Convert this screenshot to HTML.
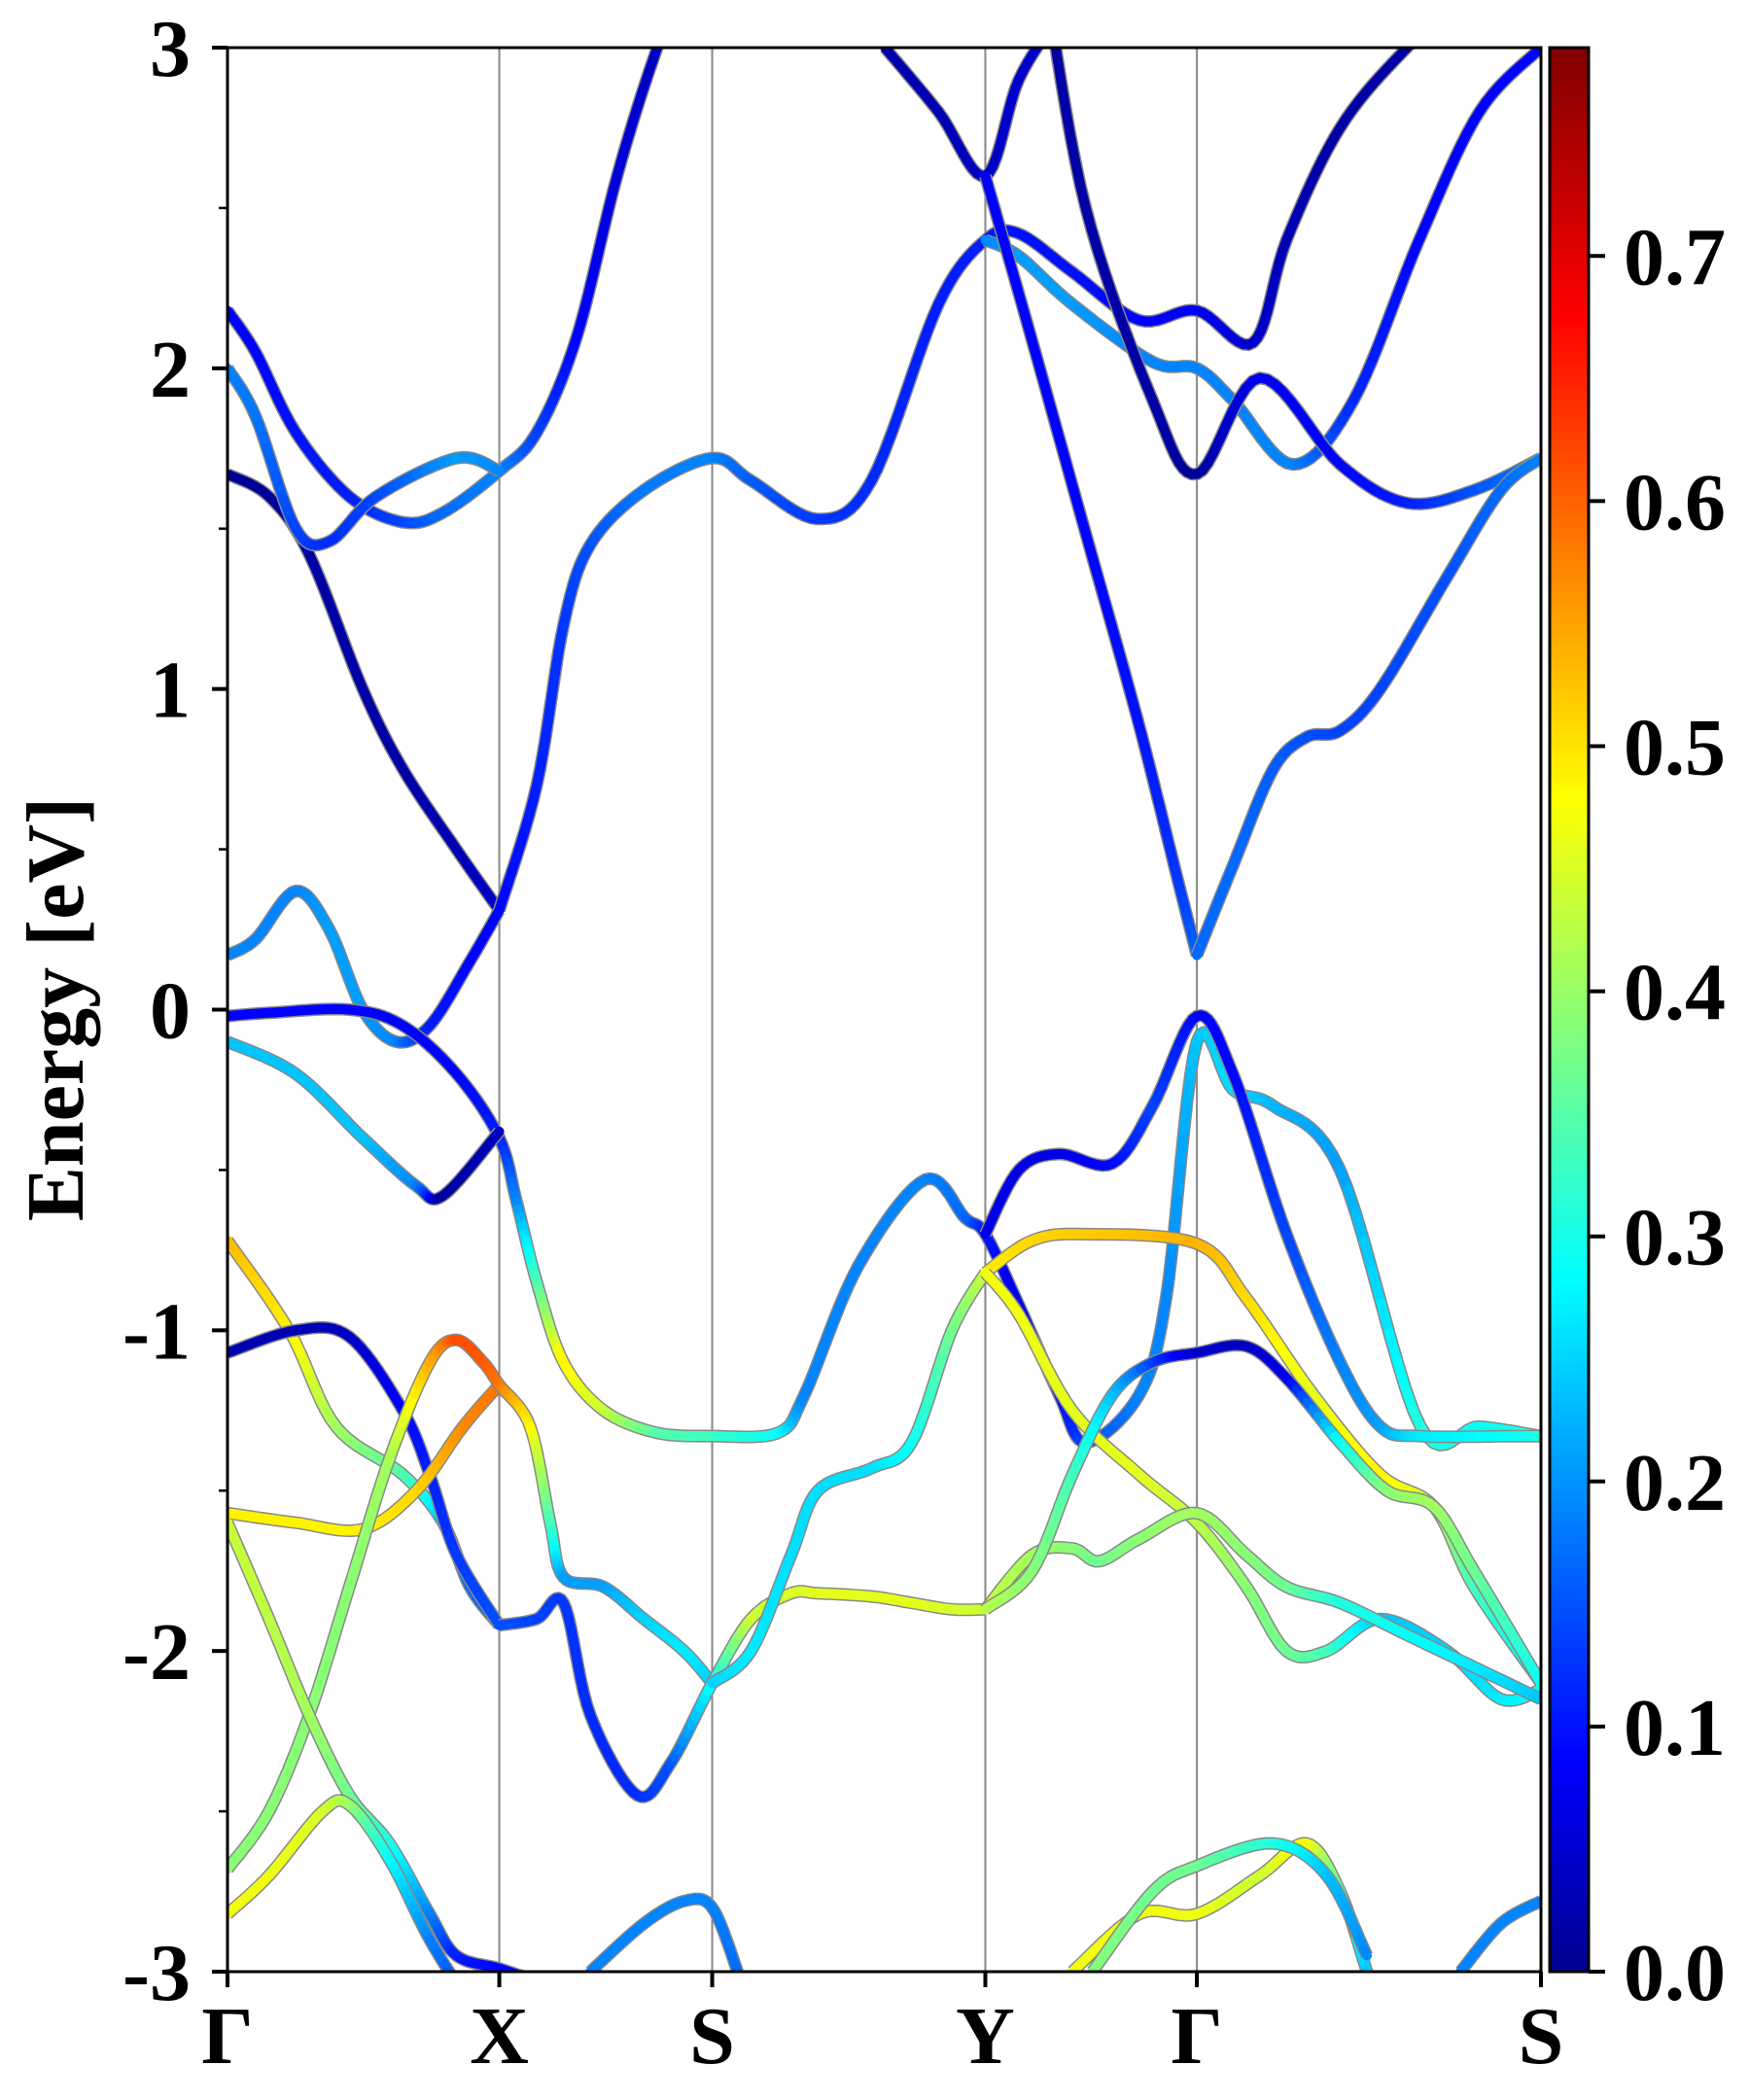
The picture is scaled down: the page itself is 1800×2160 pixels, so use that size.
<!DOCTYPE html>
<html><head><meta charset="utf-8"><style>
html,body{margin:0;padding:0;background:#fff;}
svg{display:block;font-family:"Liberation Serif",serif;font-weight:bold;}
</style></head><body>
<svg id="chart" width="1800" height="2160" viewBox="0 0 1800 2160" xmlns="http://www.w3.org/2000/svg">
<defs>
<clipPath id="clip"><rect x="234" y="49" width="1351" height="1979"/></clipPath>
<linearGradient id="jet" x1="0" y1="1" x2="0" y2="0">
<stop offset="0" stop-color="#00008f"/><stop offset="0.11" stop-color="#0000ff"/>
<stop offset="0.36" stop-color="#00ffff"/><stop offset="0.61" stop-color="#ffff00"/>
<stop offset="0.86" stop-color="#ff0000"/><stop offset="1" stop-color="#800000"/>
</linearGradient>
</defs>
<g id="grid"></g>
<g id="bands" clip-path="url(#clip)"></g>
<rect x="234" y="49" width="1351" height="1979" fill="none" stroke="#000" stroke-width="3"/>
<g id="axes"></g>
<text transform="translate(85,1038) rotate(-90)" text-anchor="middle" font-size="84">Energy [eV]</text>
<rect x="1594" y="49" width="40" height="1979" fill="url(#jet)" stroke="#000" stroke-width="3"/>
<g id="cbar"></g>
</svg>
<script>
const kLabels=["Γ","X","S","Y","Γ","S"];
const kPos=[0,203,362,566,724,981];
const yTicks=[-3,-2,-1,0,1,2,3];
const cTicks=[0,0.1,0.2,0.3,0.4,0.5,0.6,0.7];
const cMax=0.785;
// bands: k (0..981 path units), energy (eV), weight
const b1k=[0,31,61,101,131,171,203]; const b1e=[1.67,1.6,1.42,1.0,0.75,0.5,0.31]; const b1w=[0.02,0.02,0.03,0.03,0.03,0.04,0.06];
const b2k=[203,231,251,271,311,362,391,441,481,531,566,591,631,681,724,766,791,831,881,935];
const b2e=[0.31,0.7,1.2,1.45,1.62,1.72,1.65,1.53,1.65,2.2,2.4,2.42,2.3,2.15,2.18,2.08,2.4,2.75,3.0,3.2];
const b2w=[0.1,0.12,0.14,0.16,0.19,0.2,0.17,0.14,0.13,0.12,0.12,0.11,0.11,0.1,0.09,0.06,0.04,0.03,0.03,0.03];
const b3k=[0,21,51,91,131,161,203,231,261,291,321,350];
const b3e=[2.18,2.05,1.8,1.6,1.52,1.55,1.68,1.8,2.1,2.6,3.0,3.3];
const b3w=[0.1,0.1,0.11,0.12,0.15,0.18,0.2,0.15,0.1,0.07,0.05,0.05];
const b4k=[0,21,51,76,111,171,203]; const b4e=[2.0,1.85,1.5,1.46,1.6,1.72,1.68]; const b4w=[0.2,0.19,0.15,0.13,0.15,0.22,0.2];
const b5k=[566,591,631,691,724,751,796,841,890,935,981];
const b5e=[2.4,2.35,2.2,2.02,2.0,1.9,1.7,1.9,2.4,2.8,3.0];
const b5w=[0.2,0.22,0.22,0.2,0.2,0.2,0.2,0.13,0.1,0.1,0.1];
const b6k=[491,531,566,591,621];  const b6e=[3.0,2.8,2.6,2.9,3.1]; const b6w=[0.03,0.04,0.05,0.06,0.06];
const b7k=[611,641,691,724,771,831,881,931,981]; const b7e=[3.2,2.5,1.9,1.67,1.97,1.7,1.58,1.62,1.72]; const b7w=[0.03,0.03,0.03,0.02,0.09,0.1,0.12,0.16,0.2];
const b8k=[566,600,640,680,710,724]; const b8e=[2.6,2.1,1.5,0.9,0.4,0.17]; const b8w=[0.1,0.1,0.1,0.11,0.14,0.18];
const b9k=[724,751,781,806,831,861,911,951,981]; const b9e=[0.17,0.45,0.75,0.85,0.87,1.0,1.35,1.62,1.72]; const b9w=[0.18,0.18,0.17,0.16,0.15,0.15,0.16,0.18,0.2];
const b10k=[0,21,51,76,101,126,151,181,203]; const b10e=[0.17,0.22,0.37,0.25,0.0,-0.1,-0.05,0.15,0.31]; const b10w=[0.2,0.2,0.2,0.22,0.22,0.2,0.12,0.1,0.1];
const b11k=[0,31,91,131,171,203,216,231,251,281,321,362];
const b11e=[-0.02,-0.01,0.0,-0.05,-0.2,-0.4,-0.6,-0.85,-1.1,-1.25,-1.32,-1.33];
const b11w=[0.1,0.1,0.1,0.1,0.1,0.12,0.2,0.35,0.5,0.45,0.36,0.34];
const b12k=[0,51,101,141,161,203]; const b12e=[-0.1,-0.2,-0.4,-0.55,-0.58,-0.38]; const b12w=[0.25,0.25,0.25,0.2,0.02,0.05];
const b13k=[362,411,431,471,521,551,566,591,621,641,681,701,724,751,781,831,891,935,981];
const b13e=[-1.33,-1.32,-1.2,-0.8,-0.53,-0.65,-0.7,-0.92,-1.2,-1.35,-1.2,-0.9,-0.1,-0.25,-0.3,-0.5,-1.3,-1.3,-1.33];
const b13w=[0.34,0.3,0.2,0.2,0.2,0.18,0.12,0.08,0.1,0.15,0.2,0.2,0.25,0.27,0.24,0.22,0.32,0.3,0.32];
const b14k=[566,591,621,661,691,724,751,791,831,861,891,961,981];
const b14e=[-0.7,-0.5,-0.45,-0.48,-0.3,-0.02,-0.2,-0.7,-1.1,-1.3,-1.33,-1.33,-1.33];
const b14w=[0.08,0.08,0.08,0.1,0.15,0.1,0.1,0.15,0.2,0.22,0.28,0.3,0.32];
const b15k=[0,46,81,131,161,181,203]; const b15e=[-0.72,-1.0,-1.3,-1.45,-1.6,-1.8,-1.92]; const b15w=[0.55,0.5,0.42,0.36,0.25,0.18,0.17];
const b16k=[0,51,91,131,151,171,203]; const b16e=[-1.07,-1.0,-1.02,-1.25,-1.45,-1.7,-1.92]; const b16w=[0.04,0.04,0.05,0.1,0.12,0.14,0.16];
const b17k=[0,51,101,141,176,203]; const b17e=[-1.57,-1.6,-1.62,-1.5,-1.3,-1.17]; const b17w=[0.5,0.5,0.5,0.52,0.58,0.6];
const b18k=[0,31,61,91,121,151,171,191,203,226,241,251,281,311,341,362];
const b18e=[-2.68,-2.5,-2.2,-1.8,-1.4,-1.1,-1.03,-1.1,-1.17,-1.3,-1.6,-1.77,-1.8,-1.9,-2.0,-2.1];
const b18w=[0.4,0.4,0.4,0.4,0.42,0.55,0.63,0.62,0.6,0.5,0.35,0.22,0.22,0.26,0.28,0.26];
const b19k=[0,31,61,91,121,151,171,203,231]; const b19e=[-1.6,-1.9,-2.2,-2.45,-2.6,-2.82,-2.95,-2.99,-3.03]; const b19w=[0.45,0.44,0.42,0.38,0.32,0.2,0.12,0.1,0.1];
const b20k=[0,31,71,91,121,151,181]; const b20e=[-2.82,-2.7,-2.5,-2.48,-2.65,-2.9,-3.1]; const b20w=[0.48,0.48,0.46,0.42,0.3,0.2,0.14];
const b21k=[203,231,251,271,306,331,362,391,421,441,481,511,541,566];
const b21e=[-1.92,-1.9,-1.85,-2.2,-2.45,-2.35,-2.1,-1.9,-1.82,-1.82,-1.83,-1.85,-1.87,-1.87];
const b21w=[0.16,0.15,0.14,0.13,0.13,0.16,0.3,0.45,0.46,0.47,0.47,0.47,0.46,0.45];
const b22k=[362,391,421,441,481,511,541,566]; const b22e=[-2.1,-2.0,-1.7,-1.5,-1.43,-1.35,-1.0,-0.82]; const b22w=[0.26,0.28,0.27,0.27,0.27,0.3,0.38,0.45];
const b23k=[566,601,641,724,761,811,861,901,931,981]; const b23e=[-0.82,-0.72,-0.7,-0.73,-0.9,-1.2,-1.45,-1.55,-1.8,-2.1]; const b23w=[0.5,0.52,0.53,0.55,0.52,0.47,0.5,0.45,0.35,0.28];
const b24k=[566,591,631,681,724,761,791,821,861,911,951,981]; const b24e=[-0.82,-0.95,-1.25,-1.45,-1.6,-1.8,-2.0,-2.0,-1.9,-2.0,-2.15,-2.12]; const b24w=[0.48,0.48,0.47,0.47,0.44,0.4,0.38,0.35,0.25,0.26,0.28,0.3];
const b25k=[566,601,631,651,681,724,761,791,831,881,931,981]; const b25e=[-1.87,-1.7,-1.68,-1.72,-1.65,-1.57,-1.7,-1.8,-1.85,-1.95,-2.05,-2.15]; const b25w=[0.45,0.42,0.4,0.38,0.4,0.42,0.4,0.38,0.32,0.3,0.28,0.25];
const b26k=[566,601,631,661,691,724,761,791,831,866,901,931,981]; const b26e=[-1.87,-1.75,-1.45,-1.2,-1.1,-1.07,-1.05,-1.15,-1.35,-1.5,-1.55,-1.75,-2.1]; const b26w=[0.44,0.4,0.35,0.25,0.15,0.06,0.05,0.08,0.3,0.4,0.42,0.38,0.3];
const b27k=[631,681,724,771,806,831,851]; const b27e=[-3.0,-2.82,-2.82,-2.7,-2.6,-2.75,-3.0]; const b27w=[0.48,0.48,0.48,0.45,0.5,0.35,0.25];
const b28k=[646,691,724,781,821,851]; const b28e=[-3.0,-2.75,-2.67,-2.6,-2.7,-2.95]; const b28w=[0.4,0.38,0.38,0.32,0.25,0.2];
const b29k=[271,311,341,362,381]; const b29e=[-3.0,-2.85,-2.78,-2.8,-3.0]; const b29w=[0.2,0.2,0.2,0.2,0.18];
const b30k=[921,951,981]; const b30e=[-3.0,-2.85,-2.78]; const b30w=[0.2,0.2,0.2];
const bandsK=[b1k,b2k,b3k,b4k,b5k,b6k,b7k,b8k,b9k,b10k,b11k,b12k,b13k,b14k,b15k,b16k,b17k,b18k,b19k,b20k,b21k,b22k,b23k,b24k,b25k,b26k,b27k,b28k,b29k,b30k];
const bandsE=[b1e,b2e,b3e,b4e,b5e,b6e,b7e,b8e,b9e,b10e,b11e,b12e,b13e,b14e,b15e,b16e,b17e,b18e,b19e,b20e,b21e,b22e,b23e,b24e,b25e,b26e,b27e,b28e,b29e,b30e];
const bandsW=[b1w,b2w,b3w,b4w,b5w,b6w,b7w,b8w,b9w,b10w,b11w,b12w,b13w,b14w,b15w,b16w,b17w,b18w,b19w,b20w,b21w,b22w,b23w,b24w,b25w,b26w,b27w,b28w,b29w,b30w];

const NS="http://www.w3.org/2000/svg";
const X0=234,X1=1585,Y0=49,Y1=2028,KMAX=981;
const xs=k=>X0+k/KMAX*(X1-X0);
const ys=e=>Y1-(e+3)/6*(Y1-Y0);
const cs=v=>Y1-v/cMax*(Y1-Y0);
function jet(v){let t=Math.max(0,Math.min(1,v/cMax));
 const f=x=>Math.max(0,Math.min(1,x));
 const r=f(1.5-Math.abs(4*t-3)),g=f(1.5-Math.abs(4*t-2)),b=f(1.5-Math.abs(4*t-1));
 return `rgb(${Math.round(r*255)},${Math.round(g*255)},${Math.round(b*255)})`;}
function mk(tag,attrs,parent){const el=document.createElementNS(NS,tag);for(const a in attrs)el.setAttribute(a,attrs[a]);parent.appendChild(el);return el;}

const grid=document.getElementById('grid'),axes=document.getElementById('axes'),bandsG=document.getElementById('bands'),cbar=document.getElementById('cbar');
kPos.forEach((k,i)=>{
 const l=mk('line',{x1:xs(k),x2:xs(k),y1:Y0,y2:Y1,stroke:'#888','stroke-width':2},grid);
 
 
 const t=mk('line',{x1:xs(k),x2:xs(k),y1:Y1,y2:Y1+16,stroke:'#000','stroke-width':4},axes);
 
 
 const tx=mk('text',{x:xs(k),y:2122,'text-anchor':'middle','font-size':84},axes);
 tx.textContent=kLabels[i];
 
 
});
for(let e=-3;e<=3.001;e+=0.5){const major=Math.abs(e-Math.round(e))<1e-6;
 const t=mk('line',{x1:X0-(major?16:9),x2:X0,y1:ys(e),y2:ys(e),stroke:'#000','stroke-width':major?4:2.5},axes);
 
 }
yTicks.forEach(v=>{const t=mk('text',{x:196,y:ys(v)+29,'text-anchor':'end','font-size':84},axes);
 t.textContent=String(v);
 
 });
cTicks.forEach(v=>{const l=mk('line',{x1:1634,x2:1651,y1:cs(v),y2:cs(v),stroke:'#000','stroke-width':4},cbar);
 
 
 const t=mk('text',{x:1670,y:cs(v)+29,'font-size':84},cbar);
 t.textContent=v.toFixed(1);
 
 });

function cr(p0,p1,p2,p3,t){const t2=t*t,t3=t2*t;return 0.5*((2*p1)+(-p0+p2)*t+(2*p0-5*p1+4*p2-p3)*t2+(-p0+3*p1-3*p2+p3)*t3);}
bandsK.forEach((K,bi)=>{const E=bandsE[bi],W=bandsW[bi],n=K.length;
 const pts=[];
 for(let i=0;i<n-1;i++){const i0=Math.max(0,i-1),i3=Math.min(n-1,i+2);
  for(let s=0;s<10;s++){const t=s/10;
   pts.push([cr(K[i0],K[i],K[i+1],K[i3],t),cr(E[i0],E[i],E[i+1],E[i3],t),W[i]+(W[i+1]-W[i])*t]);}}
 pts.push([K[n-1],E[n-1],W[n-1]]);
 const g=mk('g',{},bandsG);
 
 
 const d=pts.map((p,i)=>(i?'L':'M')+xs(p[0]).toFixed(1)+' '+ys(p[1]).toFixed(1)).join('');
 mk('path',{d:d,fill:'none',stroke:'#888','stroke-width':13,'stroke-linejoin':'round'},g);
 for(let i=0;i<pts.length-1;i++){
  mk('line',{x1:xs(pts[i][0]),y1:ys(pts[i][1]),x2:xs(pts[i+1][0]),y2:ys(pts[i+1][1]),stroke:jet((pts[i][2]+pts[i+1][2])/2),'stroke-width':10,'stroke-linecap':'round'},g);}
});
</script>
</body></html>
